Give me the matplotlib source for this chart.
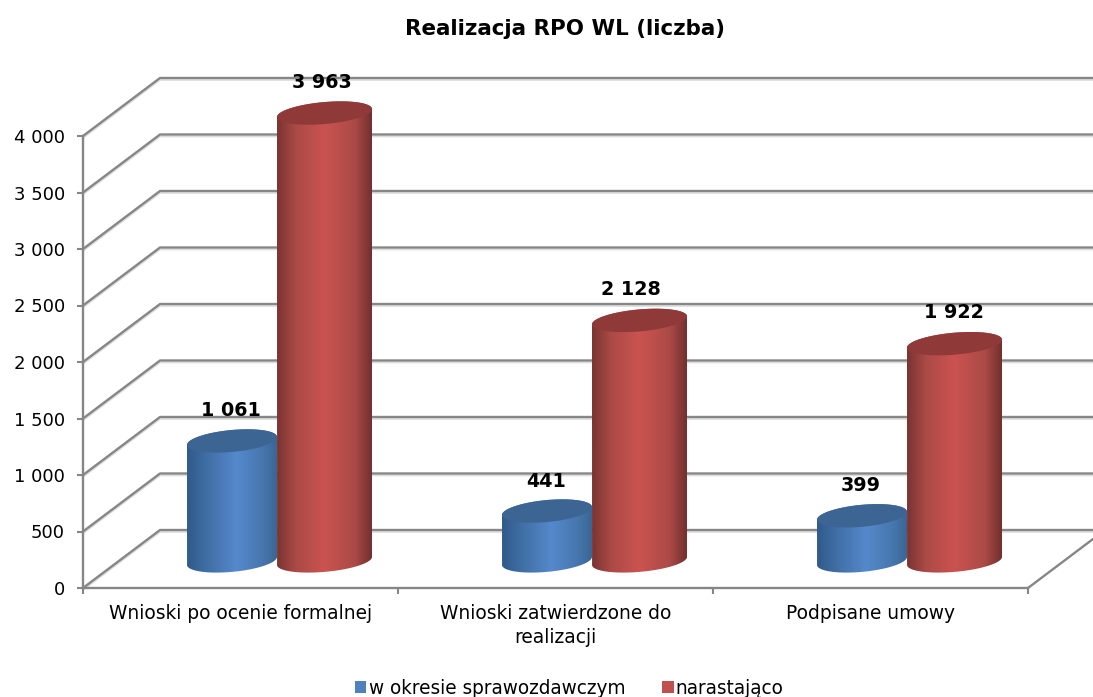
import numpy as np
import matplotlib
matplotlib.use("Agg")
import matplotlib.pyplot as plt
from matplotlib.colors import LinearSegmentedColormap
from matplotlib.patches import Polygon, Patch

categories = ["Wnioski po ocenie formalnej", "Wnioski zatwierdzone do\nrealizacji", "Podpisane umowy"]
okres = [1061, 441, 399]
narastajaco = [3963, 2128, 1922]
value_labels_okres = ["1 061", "441", "399"]
value_labels_nar = ["3 963", "2 128", "1 922"]
yticks = [0, 500, 1000, 1500, 2000, 2500, 3000, 3500, 4000]
ytick_labels = ["0", "500", "1 000", "1 500", "2 000", "2 500", "3 000", "3 500", "4 000"]

W, H = 1093, 697
X0, X1, Y0, Y4 = 83, 1028, 588, 136   # plot front box in pixels
PX = (X1 - X0) / 3                    # pixels per category
PY = (Y0 - Y4) / 4000                 # pixels per unit
DX, DY = 77 / PX, 58 / PY             # depth of the 3d box
GRID = "#868686"

# labels are not quite centred over the red cylinders in the original
red_label_shift = [-3, -9, -1]

blue_map = LinearSegmentedColormap.from_list("b", [(0, "#2f5a8a"), (0.2, "#3f6da3"), (0.55, "#5589cc"),
                                                   (0.85, "#4776ad"), (1, "#3a6593")])
red_map = LinearSegmentedColormap.from_list("r", [(0, "#7a3432"), (0.2, "#ab4a47"), (0.5, "#cb5350"),
                                                  (0.82, "#ab4a47"), (1, "#732f2e")])

fig = plt.figure(figsize=(W / 100, H / 100), dpi=100)
ax = fig.add_axes([X0 / W, 1 - Y0 / H, (X1 - X0) / W, (Y0 - Y4) / H])


def wall_lines():
    for v in yticks:
        ax.plot([0, DX, 3 + DX], [v, v + DY, v + DY], color="#dcdcdc", lw=1.2, clip_on=False, zorder=1,
                transform=ax.transData + matplotlib.transforms.Affine2D().translate(0, -2))
        ax.plot([0, DX, 3 + DX], [v, v + DY, v + DY], color=GRID, lw=1.7, clip_on=False, zorder=1.1)
    ax.plot([3, 3 + DX], [0, DY], color=GRID, lw=1.7, clip_on=False, zorder=1.1)


def cylinder(xc, value, half, cmap, top_color, z):
    base = 240
    t = np.linspace(0, 2 * np.pi, 121)
    a = half
    b = 11 / PY
    s = 4 / PY

    def ring(v):
        return xc + a * np.cos(t), v + b * np.sin(t) + s * np.cos(t)

    bx, by = ring(base)
    tx, ty = ring(base + value)
    low = t > np.pi
    up = t <= np.pi
    outline = np.vstack([
        np.column_stack([bx[low], by[low]]),
        np.column_stack([tx[up], ty[up]]),
    ])
    body = Polygon(outline, closed=True, facecolor="none", edgecolor="none", clip_on=False, zorder=z)
    ax.add_patch(body)
    grad = np.linspace(0, 1, 256).reshape(1, -1)
    im = ax.imshow(grad, cmap=cmap, aspect="auto", zorder=z, interpolation="bilinear",
                   extent=[xc - a, xc + a, base - 2 * b, base + value + 2 * b])
    im.set_clip_path(body)
    im.set_clip_box(fig.bbox)
    ax.add_patch(Polygon(np.column_stack([tx, ty]), closed=True, facecolor=top_color, edgecolor="none",
                         clip_on=False, zorder=z + 0.1))


wall_lines()

half_b = 45 / PX
half_r = 47.5 / PX
for i in range(3):
    cx = i + 0.5 + DX / 2 - 2 / PX
    xb = cx - half_b
    xr = cx + half_r
    cylinder(xb, okres[i], half_b, blue_map, "#3c6594", 2)
    cylinder(xr, narastajaco[i], half_r, red_map, "#8f3a38", 3)
    ax.text(xb - 1 / PX, okres[i] + 240 + 30 / PY, value_labels_okres[i], ha="center", va="center",
            fontsize=13.8, fontweight="bold", zorder=5, clip_on=False)
    ax.text(xr + red_label_shift[i] / PX, narastajaco[i] + 240 + 31 / PY, value_labels_nar[i], ha="center",
            va="center", fontsize=13.8, fontweight="bold", zorder=5, clip_on=False)

ax.set_xlim(0, 3)
ax.set_ylim(0, 4000)
ax.patch.set_visible(False)
for side in ["top", "right"]:
    ax.spines[side].set_visible(False)
for side in ["left", "bottom"]:
    ax.spines[side].set_color(GRID)
    ax.spines[side].set_linewidth(1.7)

ax.set_yticks(yticks)
ax.set_yticklabels(ytick_labels, fontsize=13)
ax.set_xticks([0, 1, 2, 3])
ax.set_xticklabels([])
ax.set_xticks([0.5, 1.5, 2.5], minor=True)
ax.set_xticklabels(categories, minor=True, fontsize=13.4, linespacing=1.35)
ax.tick_params(axis="x", which="major", length=4, width=1.5, color=GRID)
ax.tick_params(axis="x", which="minor", length=0, pad=11.5)
ax.tick_params(axis="y", length=4, width=1.5, color=GRID, pad=9)

fig.text(565 / W, 1 - 29 / H, "Realizacja RPO WL (liczba)", ha="center", va="center", fontsize=15.4, fontweight="bold")

handles = [Patch(facecolor="#4f81bd", label="w okresie sprawozdawczym"),
           Patch(facecolor="#c0504d", label="narastająco")]
fig.legend(handles=handles, loc="center", bbox_to_anchor=(569.5 / W, 1 - 688 / H), ncol=2, frameon=False,
           fontsize=13.35, handlelength=0.6, handleheight=0.6, handletextpad=0.12, columnspacing=2.0,
           borderpad=0, borderaxespad=0)

fig.savefig("out.png", dpi=100)
